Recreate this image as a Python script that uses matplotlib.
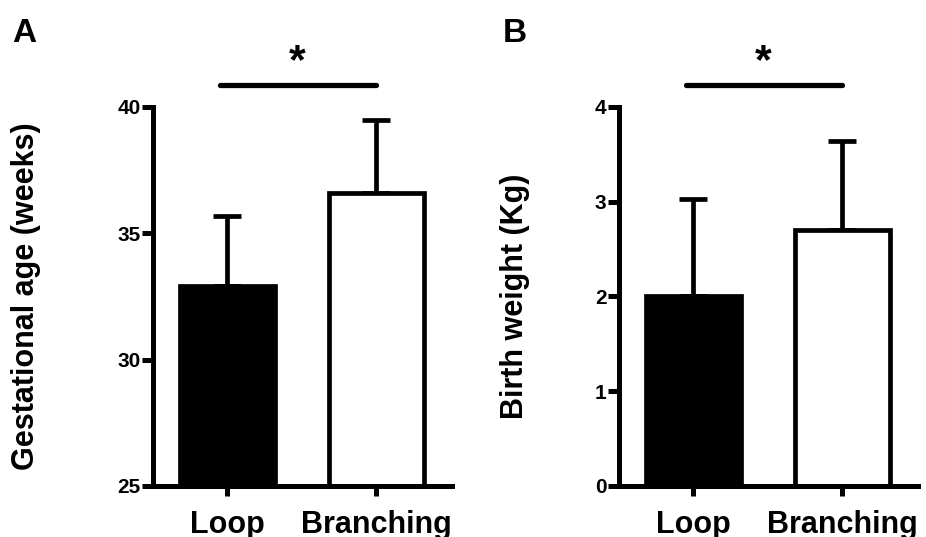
import matplotlib
matplotlib.use("Agg")
import matplotlib.pyplot as plt
import matplotlib.transforms as mtransforms

plt.rcParams['font.family'] = ['Liberation Sans', 'DejaVu Sans']
plt.rcParams['font.weight'] = 'bold'

groups = ["Loop", "Branching"]

# panel A: gestational age (weeks), mean and upper SD
ga_mean = [32.9, 36.6]
ga_sd = [2.8, 2.9]
ga_ticks = [25, 30, 35, 40]

# panel B: birth weight (Kg)
bw_mean = [2.0, 2.7]
bw_sd = [1.03, 0.94]
bw_ticks = [0, 1, 2, 3, 4]

fig = plt.figure(figsize=(9.26, 5.37), dpi=100)

LW = 3.4


def panel(rect, means, sds, ticks, ylabel, letter, letter_x, label_x):
    ax = fig.add_axes(rect)
    x = list(range(len(groups)))
    ax.errorbar(x, means, yerr=[[0] * len(sds), sds], fmt='none', ecolor='black',
                elinewidth=LW, capsize=10, capthick=LW, zorder=1)
    ax.bar(x, means, width=0.64, color=['black', 'white'], edgecolor='black',
           linewidth=LW, zorder=2, bottom=0)
    ax.set_xlim(-0.5, 1.51)
    ax.set_ylim(ticks[0], ticks[-1])
    ax.set_yticks(ticks)
    ax.set_xticks(x)
    ax.set_xticklabels(groups, fontsize=22, fontweight='bold')
    for s in ['top', 'right']:
        ax.spines[s].set_visible(False)
    for s in ['left', 'bottom']:
        ax.spines[s].set_linewidth(3.6)
    ax.tick_params(axis='y', length=8, width=3.6, labelsize=15, pad=1)
    ax.tick_params(axis='x', length=7, width=3.6, pad=10)
    for t in ax.get_yticklabels():
        t.set_fontweight('bold')

    # significance bar
    trans = mtransforms.blended_transform_factory(ax.transData, ax.transAxes)
    ax.plot([-0.05, 1.0], [1.058, 1.058], color='black', lw=LW + 0.4,
            solid_capstyle='round', transform=trans, clip_on=False)
    ax.text(0.47, 1.065, "*", transform=trans, ha='center', va='bottom',
            fontsize=31, fontweight='bold')

    ax.text(label_x, 0.5, ylabel, transform=ax.transAxes, rotation=90,
            ha='center', va='center', fontsize=22, fontweight='bold')
    fig.text(letter_x, 0.922, letter, fontsize=24, fontweight='bold')
    return ax


panel([0.1652, 0.0950, 0.3229, 0.7058], ga_mean, ga_sd, ga_ticks,
      "Gestational age (weeks)", "A", 0.013, -0.425)
panel([0.6685, 0.0950, 0.3229, 0.7058], bw_mean, bw_sd, bw_ticks,
      "Birth weight (Kg)", "B", 0.543, -0.348)

fig.savefig("out.png", dpi=100)
